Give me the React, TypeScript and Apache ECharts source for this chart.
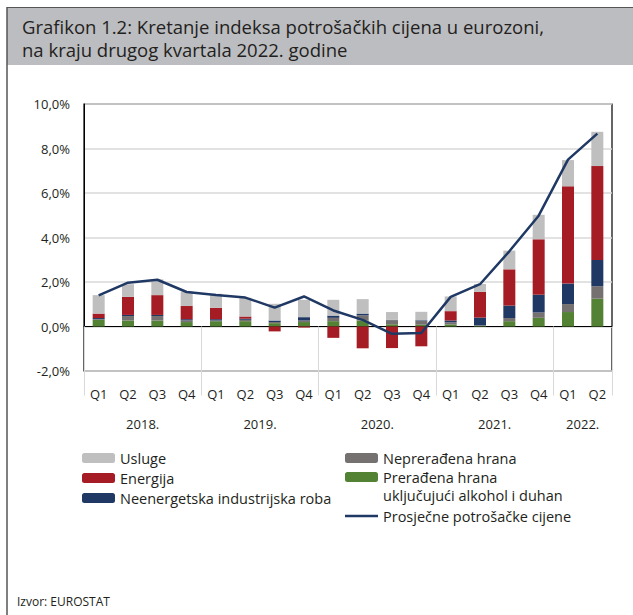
import React, { useEffect, useRef } from "react";
import * as echarts from "echarts";

const quarters = ["Q1","Q2","Q3","Q4","Q1","Q2","Q3","Q4","Q1","Q2","Q3","Q4","Q1","Q2","Q3","Q4","Q1","Q2"];
const yearOfQuarter = ["2018.","2018.","2018.","2018.","2019.","2019.","2019.","2019.","2020.","2020.","2020.","2020.","2021.","2021.","2021.","2021.","2022.","2022."];
const yearLabelIndexes = [1, 5, 9, 13, 16];
const yearSeparatorIndexes = [0, 4, 8, 12, 16];

const processedFood = [0.30,0.27,0.27,0.20,0.24,0.24,0.15,0.20,0.24,0.27,0.10,0.08,0.09,0.03,0.24,0.39,0.65,1.25];
const unprocessedFood = [0.03,0.20,0.20,0.08,0.03,0.06,0.05,0.07,0.15,0.23,0.18,0.17,0.10,0.02,0.14,0.24,0.36,0.56];
const industrialGoods = [0.05,0.05,0.05,0.05,0.06,0.05,0.07,0.15,0.10,0.08,0.02,0.03,0.08,0.35,0.56,0.80,0.92,1.18];
const energy = [0.20,0.81,0.89,0.59,0.51,0.10,-0.22,-0.05,-0.51,-0.98,-0.97,-0.89,0.42,1.16,1.63,2.49,4.37,4.22];
const services = [0.83,0.57,0.71,0.65,0.63,0.84,0.75,0.78,0.71,0.65,0.35,0.38,0.66,0.35,0.84,1.10,1.18,1.54];
const hicp = [1.4,1.97,2.1,1.55,1.42,1.3,0.85,1.35,0.72,0.3,-0.33,-0.29,1.33,1.9,3.38,4.98,7.5,8.67];

const FONT = "Open Sans";
const TXT = "#231f20";

export default function App() {
  const ref = useRef<HTMLDivElement>(null);
  useEffect(() => {
    document.body.style.margin = "0";
    const chart = echarts.init(ref.current!, null, { renderer: "svg" });
    const barCommon = { type: "bar", stack: "total", barWidth: 12 };
    const legendText = { fontFamily: FONT, fontSize: 14.5, color: TXT, lineHeight: 18 };
    const legendBase = { orient: "vertical", padding: 0, itemWidth: 33, itemHeight: 10, itemGap: 2, textStyle: legendText };
    chart.setOption({
      animation: false,
      textStyle: { fontFamily: FONT },
      graphic: [
        { type: "rect", shape: { x: 7, y: 7, width: 626, height: 58 }, style: { fill: "#bcbdc0" } },
        { type: "line", shape: { x1: 7, y1: 7.5, x2: 633, y2: 7.5 }, style: { stroke: "#555", lineWidth: 1 } },
        { type: "line", shape: { x1: 7, y1: 7, x2: 7, y2: 615 }, style: { stroke: "#555", lineWidth: 1.5 } },
        { type: "text", x: 22, y: 15, style: { text: "Grafikon 1.2: Kretanje indeksa potrošačkih cijena u eurozoni,\nna kraju drugog kvartala 2022. godine", fontFamily: FONT, fontSize: 18.5, lineHeight: 23, fill: TXT } },
        { type: "text", x: 17, y: 595, style: { text: "Izvor: EUROSTAT", fontFamily: FONT, fontSize: 12, fill: TXT } },
      ],
      grid: { left: 84, right: 21, top: 104, bottom: 244, show: true, borderColor: "#000", borderWidth: 1.2, backgroundColor: "transparent" },
      legend: [
        { ...legendBase, left: 82, top: 449, data: ["Usluge", "Energija", "Neenergetska industrijska roba"] },
        { ...legendBase, left: 345, top: 449, data: ["Neprerađena hrana"] },
        { ...legendBase, left: 345, top: 450, formatter: (n: string) => " \n" + n,
          data: ["Prerađena hrana\nuključujući alkohol i duhan"] },
        { ...legendBase, left: 345, top: 507, itemHeight: 2.5, icon: "rect",
          data: ["Prosječne potrošačke cijene"] },
      ],
      xAxis: [
        {
          type: "category", data: quarters, position: "bottom",
          axisLine: { lineStyle: { color: "#000" } },
          axisTick: { show: true, length: 69, interval: (i: number) => yearSeparatorIndexes.includes(i), lineStyle: { color: "#d9d9d9" } },
          axisLabel: { fontFamily: FONT, fontSize: 13, color: TXT, margin: 16, interval: 0 },
        },
        {
          type: "category", data: yearOfQuarter, position: "bottom", offset: 30,
          axisLine: { show: false }, axisTick: { show: false },
          axisLabel: { fontFamily: FONT, fontSize: 13, color: TXT, margin: 16, padding: [0, 0, 0, 29.3],
            interval: (i: number) => yearLabelIndexes.includes(i) },
        },
      ],
      yAxis: {
        type: "value", min: -2, max: 10, interval: 2,
        axisLine: { show: true, lineStyle: { color: "#000" } },
        axisTick: { show: false },
        splitLine: { lineStyle: { color: "#d9d9d9", width: 1.5 } },
        axisLabel: { fontFamily: FONT, fontSize: 13, color: TXT, margin: 14,
          formatter: (v: number) => v.toFixed(1).replace(".", ",") + "%" },
      },
      series: [
        { ...barCommon, name: "Prerađena hrana\nuključujući alkohol i duhan", data: processedFood, itemStyle: { color: "#548235" } },
        { ...barCommon, name: "Neprerađena hrana", data: unprocessedFood, itemStyle: { color: "#767171" } },
        { ...barCommon, name: "Neenergetska industrijska roba", data: industrialGoods, itemStyle: { color: "#1f3864" } },
        { ...barCommon, name: "Energija", data: energy, itemStyle: { color: "#a51c24" } },
        { ...barCommon, name: "Usluge", data: services, itemStyle: { color: "#bfbfbf" } },
        { type: "line", name: "Prosječne potrošačke cijene", data: hicp, symbol: "none", lineStyle: { color: "#1f3864", width: 2.5 }, itemStyle: { color: "#1f3864" }, z: 5 },
      ],
    });
    return () => chart.dispose();
  }, []);
  return <div ref={ref} style={{ width: 633, height: 615, background: "#fff" }} />;
}
